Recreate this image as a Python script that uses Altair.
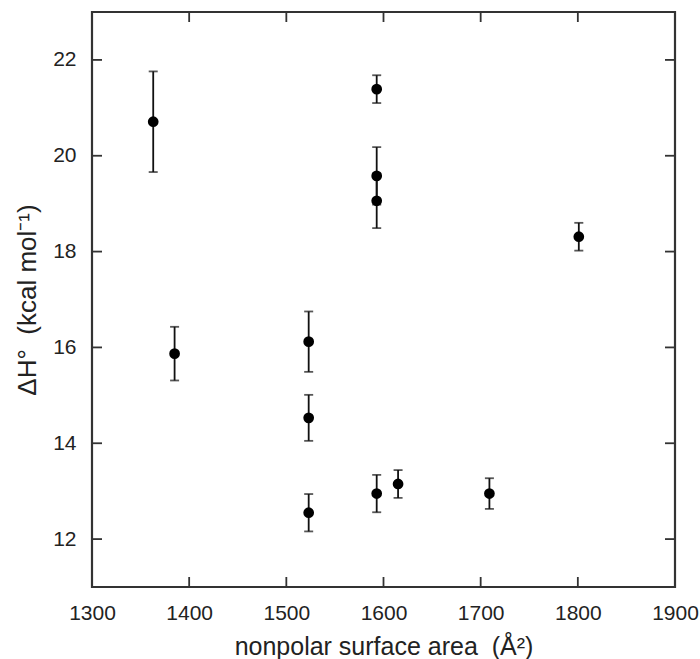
import altair as alt
import pandas as pd

# Data
area = [1363, 1385, 1523, 1523, 1523, 1593, 1593, 1593, 1593, 1615, 1709, 1801]
dH = [20.71, 15.87, 16.12, 14.53, 12.55, 21.39, 19.58, 19.06, 12.95, 13.15, 12.95, 18.31]
err = [1.05, 0.56, 0.63, 0.48, 0.39, 0.29, 0.60, 0.57, 0.39, 0.29, 0.32, 0.29]

x_ticks = [1300, 1400, 1500, 1600, 1700, 1800, 1900]
y_ticks = [12, 14, 16, 18, 20, 22]
x_inner_ticks = [1400, 1500, 1600, 1700, 1800]

df = pd.DataFrame({"area": area, "dH": dH, "err": err})
df["lo"] = df["dH"] - df["err"]
df["hi"] = df["dH"] + df["err"]
xt = pd.DataFrame({"v": x_inner_ticks})
yt = pd.DataFrame({"v": y_ticks})

W, H = 583, 575
FONT = "Liberation Sans"
TXT = "#222222"
LINE = "#333333"

xscale = alt.Scale(domain=[1300, 1900], nice=False, zero=False)
yscale = alt.Scale(domain=[11, 23], nice=False, zero=False)

xaxis = alt.Axis(
    values=x_ticks, format="d", ticks=False, domain=False, grid=False,
    labelFont=FONT, labelFontSize=21, labelColor=TXT, labelPadding=15,
    title="nonpolar surface area\u00a0\u00a0(Å²)", titleFont=FONT, titleFontSize=25,
    titleFontWeight="normal", titleColor=TXT, titlePadding=11,
    labelFlush=False,
)
yaxis = alt.Axis(
    values=y_ticks, format="d", ticks=False, domain=False, grid=False,
    labelFont=FONT, labelFontSize=21, labelColor=TXT, labelPadding=16,
    title="ΔH°\u00a0\u00a0(kcal mol⁻¹)", titleFont=FONT, titleFontSize=26,
    titleFontWeight="normal", titleColor=TXT, titlePadding=12,
)

base = alt.Chart(df)

bars = base.mark_errorbar(ticks=True, size=9, thickness=1.8, color="#111111").encode(
    x=alt.X("area:Q", scale=xscale, axis=xaxis),
    y=alt.Y("lo:Q", scale=yscale, axis=yaxis),
    y2="hi:Q",
)

pts = base.mark_point(filled=True, shape="circle", size=115, color="black", opacity=1).encode(
    x=alt.X("area:Q", scale=xscale),
    y=alt.Y("dH:Q", scale=yscale),
)

tick_style = dict(color=LINE, strokeWidth=1.8)
xb = alt.Chart(xt).mark_rule(**tick_style).encode(
    x=alt.X("v:Q", scale=xscale), y=alt.value(H - 10), y2=alt.value(H))
xtop = alt.Chart(xt).mark_rule(**tick_style).encode(
    x=alt.X("v:Q", scale=xscale), y=alt.value(0), y2=alt.value(10))
yl = alt.Chart(yt).mark_rule(**tick_style).encode(
    y=alt.Y("v:Q", scale=yscale), x=alt.value(0), x2=alt.value(10))
yr = alt.Chart(yt).mark_rule(**tick_style).encode(
    y=alt.Y("v:Q", scale=yscale), x=alt.value(W - 10), x2=alt.value(W))

chart = alt.layer(bars, pts, xb, xtop, yl, yr).properties(
    width=W, height=H,
    autosize=alt.AutoSizeParams(type="none"),
    padding={"left": 92, "top": 12, "right": 25, "bottom": 72},
    background="white",
).configure_view(stroke=LINE, strokeWidth=2.2)

chart.save("out.html", embed_options={"renderer": "svg", "actions": False})
